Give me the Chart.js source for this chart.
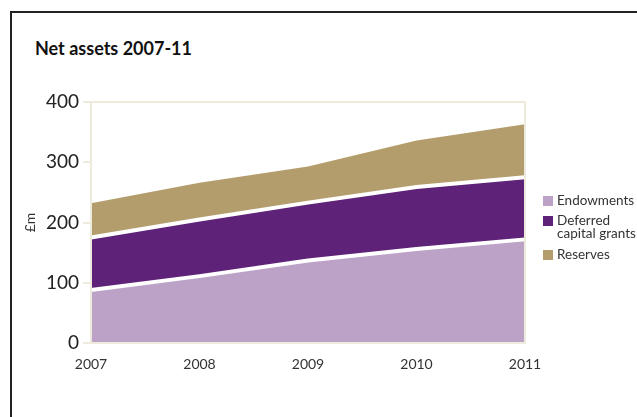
<!DOCTYPE html>
<html>
<head>
<meta charset="utf-8">
<script src="https://cdn.jsdelivr.net/npm/chart.js@4/dist/chart.umd.min.js"></script>
<style>
  body { margin: 0; background: #fff; }
  #wrap { position: relative; width: 637px; height: 417px; }
  #frame { position: absolute; left: 10px; top: 11px; right: 0; bottom: 0;
           border-top: 2px solid #222; border-left: 2px solid #222; }
  #title { position: absolute; left: 35px; top: 37px; margin: 0;
           font: bold 18px Lato, sans-serif; color: #111; }
  canvas { position: absolute; left: 0; top: 0; }
</style>
</head>
<body>
<div id="wrap">
  <div id="frame"></div>
  <h1 id="title">Net assets 2007-11</h1>
  <canvas id="netAssets" width="637" height="417"></canvas>
</div>
<script>
var years = ['2007', '2008', '2009', '2010', '2011']
var endowments = [88, 111, 137, 156, 172]
var deferredGrants = [87, 94, 96, 103, 103]
var reserves = [57, 61, 60, 77, 88]
var yTicks = [0, 100, 200, 300, 400]

var legendLines = {
  'Endowments': ['Endowments'],
  'Deferred capital grants': ['Deferred', 'capital grants'],
  'Reserves': ['Reserves']
}

// legend drawn beside the plot, box + wrapped text
var sideLegend = {
  id: 'sideLegend',
  afterDraw: function(chart) {
    var ctx = chart.ctx
    var x = chart.chartArea.right + 18
    var y = 196
    ctx.save()
    ctx.font = '13.5px Lato, sans-serif'
    ctx.textBaseline = 'middle'
    chart.data.datasets.forEach(function(ds) {
      var lines = legendLines[ds.label]
      ctx.fillStyle = ds.backgroundColor
      ctx.fillRect(x, y, 10, 10)
      ctx.fillStyle = '#333'
      lines.forEach(function(t, i) {
        ctx.fillText(t, x + 14, y + 5 + i * 12.5)
      })
      y += lines.length * 14 + 6
    })
    ctx.restore()
  }
}

// beige frame round the plot area
var plotFrame = {
  id: 'plotFrame',
  afterDatasetsDraw: function(chart) {
    var a = chart.chartArea
    var ctx = chart.ctx
    ctx.save()
    ctx.strokeStyle = '#EEEBDC'
    ctx.lineWidth = 2
    ctx.strokeRect(a.left, a.top, a.right - a.left, a.bottom - a.top)
    ctx.restore()
  }
}

var ctx = document.getElementById('netAssets').getContext('2d')

var chart = new Chart(ctx, {
  type: 'line',
  data: {
    labels: years,
    datasets: [
      { label: 'Endowments', data: endowments, backgroundColor: '#BBA2C6',
        borderColor: '#fff', borderWidth: 4, fill: 'origin' },
      { label: 'Deferred capital grants', data: deferredGrants, backgroundColor: '#5E2278',
        borderColor: '#fff', borderWidth: 4, fill: '-1' },
      { label: 'Reserves', data: reserves, backgroundColor: '#B39D6C',
        borderColor: '#B39D6C', borderWidth: 0, fill: '-1' }
    ]
  },
  options: {
    responsive: false,
    animation: false,
    layout: { padding: { top: 102, left: 10, right: 112, bottom: 44 } },
    elements: { point: { radius: 0 }, line: { tension: 0 } },
    plugins: { legend: { display: false }, tooltip: { enabled: false } },
    scales: {
      x: {
        offset: false,
        grid: { display: false, drawTicks: false },
        border: { display: false },
        ticks: { padding: 13, color: '#333', font: { family: 'Lato', size: 14 } },
        afterFit: function(s) { s.height = 30 }
      },
      y: {
        stacked: true,
        min: 0,
        max: 400,
        afterBuildTicks: function(s) { s.ticks = yTicks.map(function(v) { return { value: v } }) },
        grid: { drawOnChartArea: false, drawTicks: true, tickLength: 8, color: '#EEEBDC', lineWidth: 2 },
        border: { display: false },
        ticks: { padding: 4, color: '#222', font: { family: 'Lato', size: 19 } },
        title: { display: true, text: '£m', color: '#333', padding: 12,
                 font: { family: 'Lato', size: 14 } },
        afterFit: function(s) { s.width = 81 }
      }
    }
  },
  plugins: [plotFrame, sideLegend]
})
</script>
</body>
</html>
